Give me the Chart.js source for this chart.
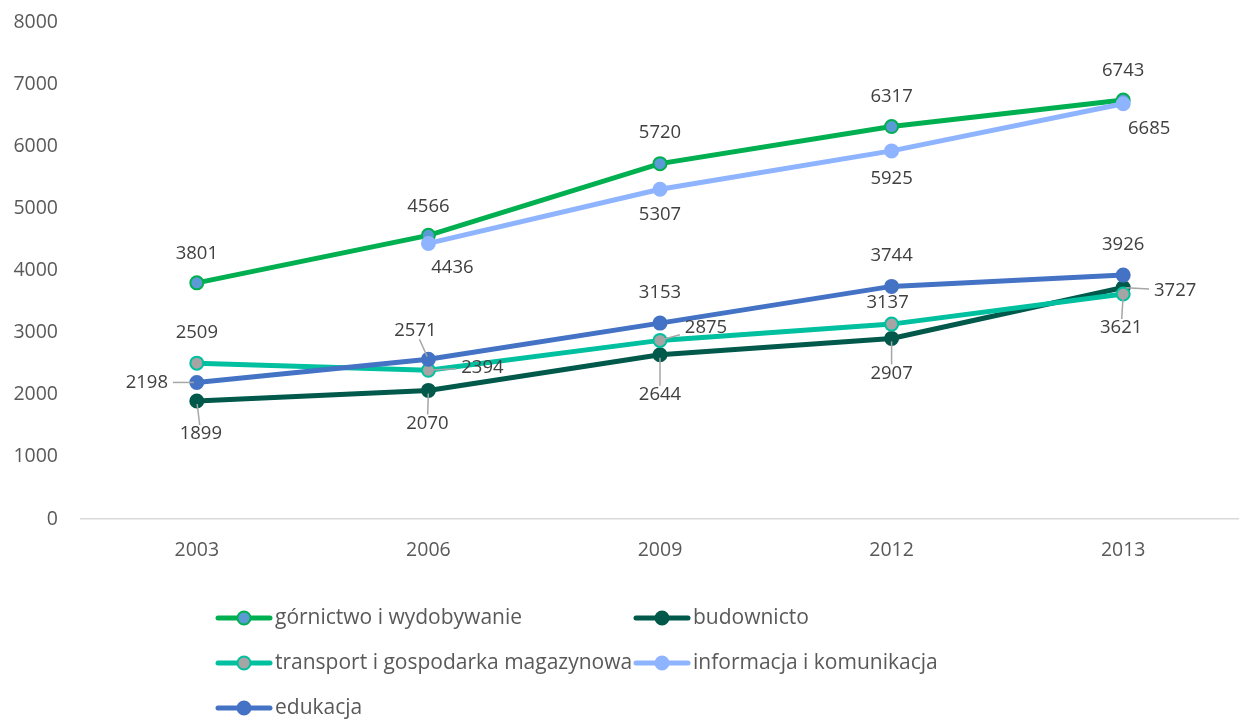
<!DOCTYPE html>
<html>
<head>
<meta charset="utf-8">
<script src="https://cdn.jsdelivr.net/npm/chart.js@4.4.1/dist/chart.umd.min.js"></script>
<style>
  html, body { margin: 0; padding: 0; background: #ffffff; }
  #wrap { width: 1239px; height: 719px; position: relative; }
</style>
</head>
<body>
<div id="wrap"><canvas id="c" width="1239" height="719"></canvas></div>
<script>
// ---- Data ----
const categories = ['2003', '2006', '2009', '2012', '2013'];
const seriesNames = [
  'górnictwo i wydobywanie',
  'budownicto',
  'transport i gospodarka magazynowa',
  'informacja i komunikacja',
  'edukacja'
];
const gornictwo  = [3801, 4566, 5720, 6317, 6743];
const budownicto = [1899, 2070, 2644, 2907, 3727];
const transport  = [2509, 2394, 2875, 3137, 3621];
const informacja = [null, 4436, 5307, 5925, 6685];
const edukacja   = [2198, 2571, 3153, 3744, 3926];
const yTicks = [0, 1000, 2000, 3000, 4000, 5000, 6000, 7000, 8000];

// ---- Styles ----
const lineColors   = ['#00B050', '#00594A', '#00C0A0', '#8FB4FF', '#4472C4'];
const markerFills  = ['#5B9BD5', '#00594A', '#A5A5A5', '#8FB4FF', '#4472C4'];
const textColor = '#595959';
const FONT = '"Open Sans", "DejaVu Sans", sans-serif';

// label offsets (dx, dy relative to point) and whether a leader line is drawn
const labelPlacement = [
  [[0,-29,0],[0,-29,0],[0,-31,0],[0,-30,0],[0,-29,0]],
  [[4,33,1],[-1,33,1],[0,40,1],[0,35,1],[52,3,1]],
  [[0,-30,0],[54,-3,1],[46,-13,1],[-4,-21,0],[-2,34,1]],
  [[0,0,0],[24,24,0],[0,25,0],[0,28,0],[26,25,0]],
  [[-50,0,1],[-13,-29,1],[0,-30,0],[0,-31,0],[0,-30,0]]
];

const allSeries = [gornictwo, budownicto, transport, informacja, edukacja];

const datasets = allSeries.map((d, i) => ({
  label: seriesNames[i],
  data: d,
  borderColor: lineColors[i],
  backgroundColor: markerFills[i],
  pointBackgroundColor: markerFills[i],
  pointBorderColor: lineColors[i],
  pointBorderWidth: 2,
  pointRadius: 6.5,
  pointHoverRadius: 6.5,
  borderWidth: 5,
  tension: 0,
  spanGaps: false,
  order: allSeries.length - i
}));

const dataLabelPlugin = {
  id: 'dataLabels',
  afterDatasetsDraw(chart) {
    const ctx = chart.ctx;
    ctx.save();
    ctx.font = '18.5px ' + FONT;
    ctx.textAlign = 'center';
    ctx.textBaseline = 'middle';
    chart.data.datasets.forEach((ds, i) => {
      const meta = chart.getDatasetMeta(i);
      meta.data.forEach((pt, j) => {
        const v = ds.data[j];
        if (v === null || v === undefined) return;
        const [dx, dy, leader] = labelPlacement[i][j];
        const lx = pt.x + dx, ly = pt.y + dy;
        const text = String(v);
        if (leader) {
          const w = ctx.measureText(text).width / 2 + 5;
          const h = 9;
          const vx = pt.x - lx, vy = pt.y - ly;
          const len = Math.hypot(vx, vy);
          const ux = vx / len, uy = vy / len;
          const tx = Math.abs(ux) > 1e-6 ? w / Math.abs(ux) : Infinity;
          const ty = Math.abs(uy) > 1e-6 ? h / Math.abs(uy) : Infinity;
          const t = Math.min(tx, ty);
          const sx = lx + ux * t, sy = ly + uy * t;
          const ex = pt.x - ux * 3, ey = pt.y - uy * 3;
          if (len - t > 6) {
            ctx.strokeStyle = '#A6A6A6';
            ctx.lineWidth = 1.5;
            ctx.beginPath();
            ctx.moveTo(sx, sy);
            ctx.lineTo(ex, ey);
            ctx.stroke();
          }
        }
        ctx.fillStyle = '#404040';
        ctx.fillText(text, lx, ly);
      });
    });
    ctx.restore();
  }
};

const legendPlugin = {
  id: 'customLegend',
  afterDraw(chart) {
    const ctx = chart.ctx;
    ctx.save();
    const cols = [218, 636];
    const rows = [618, 663, 708];
    ctx.font = '21px ' + FONT;
    ctx.textBaseline = 'middle';
    ctx.textAlign = 'left';
    chart.data.datasets.forEach((ds, i) => {
      const x = cols[i % 2];
      const y = rows[Math.floor(i / 2)];
      ctx.strokeStyle = ds.borderColor;
      ctx.lineWidth = 5;
      ctx.lineCap = 'round';
      ctx.beginPath();
      ctx.moveTo(x, y);
      ctx.lineTo(x + 52, y);
      ctx.stroke();
      ctx.beginPath();
      ctx.arc(x + 26, y, 6.5, 0, Math.PI * 2);
      ctx.fillStyle = ds.pointBackgroundColor;
      ctx.fill();
      ctx.lineWidth = 2;
      ctx.strokeStyle = ds.pointBorderColor;
      ctx.stroke();
      ctx.fillStyle = textColor;
      ctx.fillText(ds.label, x + 57, y);
    });
    ctx.restore();
  }
};

new Chart(document.getElementById('c'), {
  type: 'line',
  data: { labels: categories, datasets },
  options: {
    responsive: false,
    animation: false,
    events: [],
    layout: { autoPadding: false, padding: { top: 22, right: 0, bottom: 0, left: 0 } },
    plugins: {
      legend: { display: false },
      tooltip: { enabled: false },
      title: { display: false }
    },
    scales: {
      x: {
        offset: true,
        grid: { display: false, drawTicks: false },
        border: { display: true, color: '#D9D9D9', width: 1.5 },
        ticks: { color: textColor, font: { family: FONT, size: 19.5 }, padding: 20 },
        afterFit(scale) { scale.height = 200; scale.paddingLeft = 0; scale.paddingRight = 0; }
      },
      y: {
        min: 0,
        max: 8000,
        afterBuildTicks(scale) { scale.ticks = yTicks.map(v => ({ value: v })); },
        grid: { display: false, drawTicks: false },
        border: { display: false },
        ticks: {
          color: textColor,
          font: { family: FONT, size: 19.5 },
          padding: 23,
          callback: (v) => String(v)
        },
        afterFit(scale) { scale.width = 81; scale.paddingTop = 0; scale.paddingBottom = 0; }
      }
    }
  },
  plugins: [dataLabelPlugin, legendPlugin]
});
</script>
</body>
</html>
